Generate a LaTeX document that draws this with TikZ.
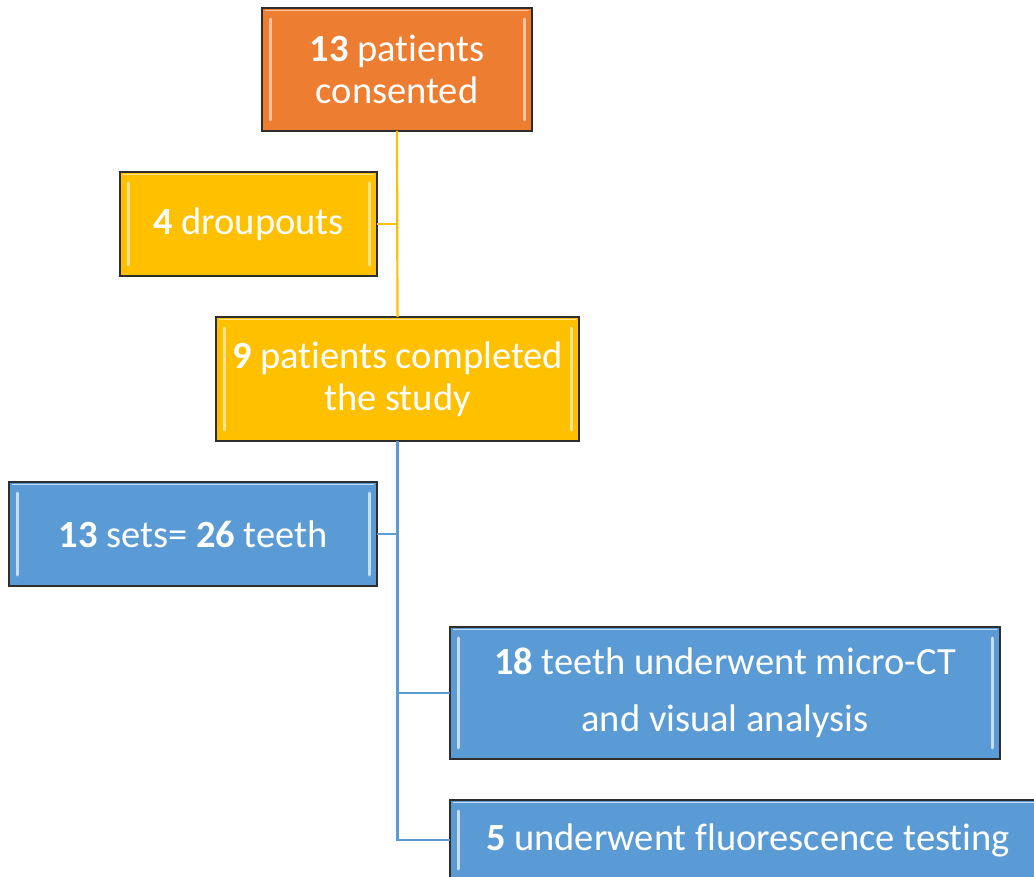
\documentclass[tikz,border=0pt]{standalone}
\usepackage{fontspec}
\setmainfont[RawFeature={-liga;-clig;-calt;-dlig;-rlig}]{Carlito}
\definecolor{corange}{HTML}{ED7D31}
\definecolor{cyellow}{HTML}{FFC000}
\definecolor{cblue}{HTML}{5B9BD5}
\definecolor{cborder}{HTML}{2E2E2E}
\tikzset{
  box/.style={draw=cborder, line width=1.5pt, text=white, align=center, inner sep=0pt, outer sep=0pt,
    anchor=north west, font=\fontsize{38.5}{42}\selectfont},
  wide/.style={font=\fontsize{38.5}{57}\selectfont},
  yline/.style={draw=cyellow, line width=2.2pt},
  bline/.style={draw=cblue, line width=2.2pt},
  hl/.style={line width=3pt, line cap=round}
}
\newcommand{\bevel}[2]{%
  \draw[hl, draw=#2] ([xshift=8pt,yshift=-11pt]#1.north west) -- ([xshift=8pt,yshift=11pt]#1.south west);
  \draw[hl, draw=#2] ([xshift=-8pt,yshift=-11pt]#1.north east) -- ([xshift=-8pt,yshift=11pt]#1.south east);
  \draw[line width=1.2pt, draw=#2] ([xshift=3pt,yshift=-2.5pt]#1.north west) -- ([xshift=-3pt,yshift=-2.5pt]#1.north east);
}
\begin{document}
\begin{tikzpicture}[x=1pt,y=-1pt]
\useasboundingbox (0,0) rectangle (1034,877);
\clip (0,0) rectangle (1034,877);
\fill[white] (0,0) rectangle (1034,877);
\node[box, fill=corange, minimum width=270pt, minimum height=123pt] (c1) at (262,8) {\textbf{13} pat\kern0pt ients\\consented};
\node[box, fill=cyellow, minimum width=257pt, minimum height=104pt] (c2) at (120,172) {\textbf{4} droupouts};
\node[box, fill=cyellow, minimum width=363pt, minimum height=124pt] (c3) at (216,317) {\textbf{9} pat\kern0pt ients completed\\the study};
\node[box, fill=cblue, minimum width=368pt, minimum height=104pt] (c4) at (9,482) {\textbf{13} sets= \textbf{26} teeth};
\node[box, wide, fill=cblue, minimum width=550pt, minimum height=132pt] (c5) at (450,627) {\textbf{18} teeth underwent micro-CT\\and visual analysis};
\node[box, fill=cblue, minimum width=596pt, minimum height=80pt] (c6) at (450,800) {\textbf{5} underwent f\kern0pt luorescence test\kern0pt ing};
\bevel{c1}{corange!45!white}
\bevel{c2}{cyellow!45!white}
\bevel{c3}{cyellow!45!white}
\bevel{c4}{cblue!35!white}
\bevel{c5}{cblue!35!white}
\bevel{c6}{cblue!35!white}
\coordinate (j2) at (c2.east -| c1.south);
\draw[yline] (c1.south) -- (c3.north);
\draw[yline] (c2.east) -- (j2);
\coordinate (j4) at (c4.east -| c3.south);
\coordinate (j5) at (c5.west -| c3.south);
\coordinate (j6) at (c6.west -| c3.south);
\draw[bline] (c3.south) -- (j6) -- (c6.west);
\draw[bline] (c4.east) -- (j4);
\draw[bline] (j5) -- (c5.west);
\end{tikzpicture}
\end{document}
